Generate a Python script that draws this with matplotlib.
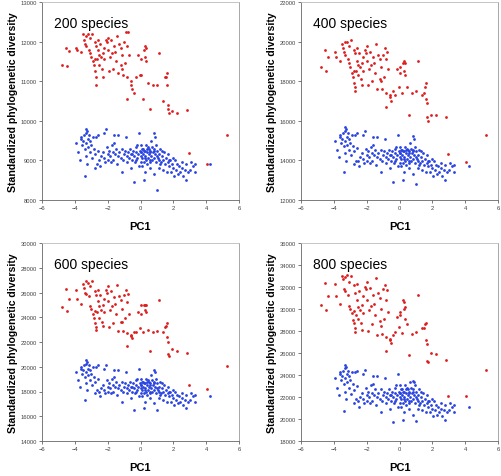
import matplotlib
matplotlib.use("Agg")
import matplotlib.pyplot as plt

plt.rcParams['font.family'] = ['Liberation Sans', 'DejaVu Sans']

# PC1 scores (same sites in every panel)
pc1_red = [-4.8, -4.45, -4.55, -4.35, -3.95, -3.85, -3.65, -3.5, -3.45, -3.4,
           -3.3, -3.2, -3.1, -3.15, -3.05, -3.0, -2.95, -2.9, -2.85, -2.8,
           -2.8, -2.75, -2.7, -2.7, -2.65, -2.6, -2.6, -2.55, -2.5, -2.45,
           -2.4, -2.35, -2.3, -2.25, -2.2, -2.1, -2.05, -2.0, -1.95, -1.9,
           -1.85, -1.8, -1.75, -1.7, -1.6, -1.55, -1.5, -1.45, -1.35, -1.3,
           -1.2, -1.15, -1.1, -1.05, -1.0, -0.95, -0.9, -0.85, -0.8, -0.75,
           -0.7, -0.6, -0.55, -0.5, -0.4, -0.85, -0.3, -0.15, -0.05, 0.0,
           0.05, 0.15, 0.2, 0.3, 0.3, 0.35, 0.45, 0.6, 0.75, 1.0,
           1.1, 1.35, 1.5, 1.55, 1.6, 1.6, 1.65, 1.7, 1.75, 1.9,
           2.2, 2.85, 2.95, 4.05, 5.25, -2.7, -3.3, -2.3, -1.2, 0.35]

pc1_blue = [-3.9, -3.8, -3.7, -3.6, -3.55, -3.5, -3.45, -3.4, -3.4, -3.35,
            -3.3, -3.3, -3.25, -3.25, -3.2, -3.2, -3.15, -3.1, -3.05, -3.0,
            -2.95, -2.9, -2.85, -2.8, -2.75, -2.7, -2.65, -2.6, -2.5, -2.45,
            -2.4, -2.3, -2.25, -2.2, -2.15, -2.1, -2.05, -2.0, -1.95, -1.9,
            -1.85, -1.8, -1.75, -1.7, -1.65, -1.6, -1.55, -1.5, -1.45, -1.4,
            -1.35, -1.3, -1.2, -1.15, -1.1, -1.05, -1.0, -0.95, -0.9, -0.85,
            -0.8, -0.75, -0.7, -0.65, -0.6, -0.55, -0.5, -0.45, -0.4, -0.4,
            -0.35, -0.3, -0.25, -0.2, -0.15, -0.1, -0.1, -0.05, 0.0, 0.0,
            0.05, 0.05, 0.1, 0.1, 0.15, 0.15, 0.2, 0.2, 0.25, 0.3,
            0.3, 0.35, 0.35, 0.4, 0.4, 0.45, 0.5, 0.5, 0.55, 0.6,
            0.6, 0.65, 0.7, 0.7, 0.75, 0.8, 0.8, 0.85, 0.85, 0.9,
            0.9, 0.95, 1.0, 1.0, 1.05, 1.1, 1.1, 1.15, 1.2, 1.25,
            1.3, 1.35, 1.4, 1.45, 1.5, 1.55, 1.6, 1.65, 1.7, 1.75,
            1.8, 1.85, 1.9, 1.95, 2.0, 2.05, 2.1, 2.15, 2.2, 2.3,
            2.35, 2.4, 2.5, 2.55, 2.6, 2.7, 2.75, 2.8, 2.9, 3.0,
            3.1, 3.2, 3.3, 3.35, 4.25, 0.2, 0.45, -0.2, 0.65, 0.95,
            1.3, -1.6, -2.6, -3.6, -3.3, 1.75, 1.2, 0.0, 0.25, 0.55,
            -0.3, 0.8, 0.6, 0.4, 1.0, -0.5, 0.1]

# standardized phylogenetic diversity, 200 species
pd200_red = [11400, 11390, 11850, 11770, 11850, 11780, 11730, 12200, 12050, 11950,
             11900, 12180, 12100, 11800, 11700, 11600, 12180, 11500, 11400, 12000,
             11250, 11550, 11900, 11100, 11550, 12050, 11800, 11650, 11400, 11950,
             11600, 11300, 11700, 11550, 11850, 12050, 12000, 11800, 12100, 11250,
             11600, 12030, 11700, 11300, 11900, 11750, 11500, 12150, 11200, 11950,
             11850, 11650, 11300, 11150, 12000, 11450, 12250, 11900, 11100, 12250,
             11650, 11000, 10900, 10800, 10700, 10550, 11100, 11650, 11150, 11150,
             11550, 10550, 11800, 11900, 11600, 11500, 10950, 10300, 10900, 10900,
             11700, 10500, 11100, 11100, 11200, 10900, 10400, 10300, 10200, 10250,
             10200, 10280, 9180, 8900, 9650, 10900, 12150, 11100, 11400, 11850]

pd200_blue = [9450, 9200, 9000, 9550, 9400, 9500, 9650, 9300, 8600, 9800,
              9450, 9100, 9750, 8900, 9550, 9350, 9650, 9500, 9200, 9400,
              9050, 9600, 9300, 9150, 8800, 9600, 8900, 9250, 9000, 8850,
              9100, 9200, 9700, 9050, 8950, 9800, 9350, 9150, 9000, 9250,
              9100, 8950, 9400, 9200, 9000, 9650, 9150, 9300, 8900, 9650,
              9100, 9200, 9050, 8700, 9300, 9000, 9150, 9250, 9600, 9100,
              8950, 9200, 9050, 9300, 8800, 9150, 9000, 9250, 9100, 8450,
              8950, 9200, 9350, 9050, 9150, 9700, 8850, 9250, 9100, 8950,
              9400, 9200, 9050, 8850, 9300, 9150, 8950, 8500, 9250, 9100,
              8700, 9400, 9000, 9200, 8900, 9050, 9300, 9150, 8950, 9250,
              8800, 9100, 9350, 9000, 9200, 9050, 8650, 9700, 9300, 9600,
              9150, 8950, 9250, 8250, 9050, 9150, 8800, 9000, 9300, 8950,
              9100, 8750, 9000, 9200, 8900, 9050, 8700, 8950, 9150, 8850,
              9000, 8700, 8900, 9050, 8800, 8600, 9000, 8750, 8900, 8650,
              8850, 8700, 8950, 8800, 8600, 8750, 8500, 8900, 8700, 8750,
              8950, 8850, 8700, 8900, 8900, 9250, 9350, 9400, 9500, 9400,
              9250, 9450, 9650, 9600, 9700, 9000, 8900, 9200, 9050, 9200,
              9000, 9250, 9000, 9300, 9100, 9150, 9300]

# 400 species
pd400_red = [18700, 18500, 19600, 19200, 19500, 19200, 19000, 19900, 19700, 19500,
             19300, 20000, 19800, 19100, 18900, 18700, 20100, 18400, 18200, 19600,
             17900, 18500, 19400, 17700, 18500, 19700, 19000, 18800, 18300, 19400,
             18700, 18100, 18900, 18500, 19200, 19600, 19400, 19000, 19800, 17800,
             18600, 19500, 18800, 18000, 19200, 18900, 18400, 19900, 17600, 19300,
             19100, 18700, 18000, 17600, 19300, 18200, 19700, 19100, 17400, 19500,
             18600, 17300, 17200, 17000, 17500, 16700, 17300, 18600, 17700, 18400,
             18700, 17400, 18900, 19000, 18500, 18300, 17700, 16300, 17400, 17500,
             19000, 17300, 17400, 17700, 17900, 17100, 16900, 16200, 16000, 16300,
             16300, 16200, 14300, 13900, 15300, 17500, 20000, 17800, 18100, 18900]

pd400_blue = [15000, 14550, 14150, 15200, 14900, 15100, 15400, 14750, 13400, 15700,
              15000, 14350, 15600, 13950, 15200, 14800, 15400, 15100, 14550, 14900,
              14250, 15300, 14750, 14450, 13800, 15300, 13950, 14650, 13950, 13700,
              14150, 14350, 15300, 14050, 13850, 15500, 14600, 14250, 13950, 14450,
              14150, 13850, 14700, 14350, 13950, 15200, 14250, 14550, 13750, 15200,
              14150, 14350, 14050, 13400, 14550, 13950, 14250, 14450, 15100, 14150,
              13850, 14350, 14050, 14550, 13600, 14250, 13950, 14450, 14150, 12900,
              13850, 14350, 14600, 14050, 14250, 15300, 13700, 14450, 14150, 13850,
              14700, 14350, 14050, 13700, 14550, 14250, 13850, 13000, 14450, 14150,
              13400, 14700, 13950, 14350, 13750, 14050, 14550, 14250, 13850, 14450,
              13600, 14150, 14600, 13950, 14350, 14050, 13300, 15250, 14550, 15100,
              14250, 13850, 14450, 12800, 14050, 14250, 13600, 13950, 14550, 13850,
              14150, 13500, 13950, 14350, 13750, 14050, 13400, 13850, 14250, 13700,
              13950, 13400, 13750, 14050, 13600, 13200, 13950, 13500, 13750, 13300,
              13700, 13400, 13850, 13600, 13200, 13500, 13000, 13750, 13400, 13500,
              13850, 13700, 13400, 13750, 13700, 14450, 14600, 14700, 14900, 14700,
              14450, 14800, 15400, 15300, 15500, 13950, 13750, 14350, 14050, 14350,
              13950, 14450, 13950, 14550, 14150, 14250, 14550]

# 600 species
pd600_red = [24800, 24500, 26300, 25500, 26200, 25500, 25100, 26700, 26400, 26000,
             25900, 26800, 26500, 25700, 24900, 24700, 26900, 24300, 23900, 26100,
             23500, 24500, 25800, 23200, 24400, 26200, 25300, 24900, 23900, 25800,
             24600, 23600, 25000, 24400, 25500, 26200, 26000, 25300, 26500, 23200,
             24600, 26100, 24900, 23500, 25600, 25100, 24300, 26600, 22900, 25700,
             25400, 24700, 23600, 22900, 25800, 23900, 26200, 25200, 22700, 25900,
             24300, 22600, 22500, 22300, 22800, 21700, 22800, 24400, 23100, 24300,
             25000, 22800, 25000, 25000, 24600, 24400, 23000, 21300, 22800, 22900,
             25400, 22800, 23200, 23300, 23500, 22400, 22000, 21000, 20900, 21400,
             21300, 21100, 18500, 18200, 20100, 23000, 26900, 23300, 23600, 25000]

pd600_blue = [19600, 18900, 18400, 19850, 19450, 19750, 20150, 19200, 17300, 20550,
              19600, 18650, 20400, 18100, 19850, 19300, 20150, 19750, 18900, 19450,
              18500, 20000, 19200, 18800, 17850, 20000, 18100, 19050, 18000, 17600,
              18250, 18500, 19850, 18100, 17850, 20150, 18900, 18400, 18000, 18650,
              18250, 17850, 19050, 18500, 18000, 19750, 18400, 18800, 17700, 19750,
              18250, 18500, 18100, 17150, 18800, 18000, 18400, 18650, 19600, 18250,
              17850, 18500, 18100, 18800, 17450, 18400, 18000, 18650, 18250, 16500,
              17850, 18500, 18900, 18100, 18400, 19850, 17600, 18650, 18250, 17850,
              19050, 18500, 18100, 17600, 18800, 18400, 17850, 16650, 18650, 18250,
              17150, 19050, 18000, 18500, 17700, 18100, 18800, 18400, 17850, 18650,
              17450, 18250, 18900, 18000, 18500, 18100, 17050, 19700, 18800, 19600,
              18400, 17850, 18650, 16500, 18100, 18400, 17450, 18000, 18800, 17850,
              18250, 17300, 18000, 18500, 17700, 18100, 17150, 17850, 18400, 17600,
              18000, 17150, 17700, 18100, 17450, 16900, 18000, 17300, 17700, 17050,
              17600, 17150, 17850, 17450, 16900, 17300, 16650, 17700, 17150, 17300,
              17850, 17600, 17150, 17700, 17600, 18650, 18900, 19050, 19350, 19050,
              18650, 19200, 20150, 20000, 20250, 18000, 17700, 18500, 18100, 18500,
              18000, 18650, 18000, 18800, 18250, 18400, 18800]

# 800 species
pd800_red = [30400, 29900, 32400, 31200, 32300, 31200, 30500, 33000, 32700, 31800,
             31600, 33100, 32500, 31300, 30300, 30000, 33000, 29600, 29000, 32200,
             28700, 29800, 31500, 28300, 29500, 32300, 30800, 30200, 29100, 31600,
             29900, 28700, 30400, 29600, 31200, 32000, 31800, 30800, 32500, 28000,
             29900, 31900, 30300, 28600, 31300, 30500, 29500, 32800, 27600, 31500,
             31000, 30000, 28500, 27700, 31800, 29100, 32200, 30800, 27500, 31700,
             29700, 27300, 27200, 26900, 27600, 26200, 27900, 29300, 28400, 29700,
             29500, 27800, 30800, 30600, 30000, 29100, 28600, 25800, 27700, 27900,
             31300, 28300, 28300, 28600, 28700, 27200, 26800, 25300, 25200, 26000,
             25900, 25400, 22100, 22100, 24500, 27900, 32900, 28100, 28900, 30200]

pd800_blue = [23700, 22850, 22150, 24050, 23550, 23900, 24400, 23200, 20750, 24950,
              23700, 22500, 24750, 21800, 24050, 23350, 24400, 23900, 22850, 23550,
              22300, 24250, 23200, 22650, 21450, 24250, 21800, 23000, 21650, 21100,
              22000, 22350, 24100, 21800, 21500, 24450, 22850, 22150, 21650, 22500,
              22000, 21500, 23050, 22350, 21650, 23900, 22150, 22700, 21300, 23900,
              22000, 22350, 21800, 20600, 22700, 21650, 22150, 22500, 23750, 22000,
              21500, 22350, 21800, 22700, 20950, 22150, 21650, 22500, 22000, 19750,
              21500, 22350, 22850, 21800, 22150, 24100, 21100, 22500, 22000, 21500,
              23050, 22350, 21800, 21100, 22700, 22150, 21500, 19900, 22500, 22000,
              20600, 23050, 21650, 22350, 21300, 21800, 22700, 22150, 21500, 22500,
              20950, 22000, 22850, 21650, 22350, 21800, 20400, 23500, 22700, 23400,
              22150, 21500, 22500, 19800, 21800, 22150, 20950, 21650, 22700, 21500,
              22000, 20800, 21650, 22350, 21300, 21800, 20600, 21500, 22150, 21100,
              21650, 20600, 21300, 21800, 20950, 20250, 21650, 20800, 21300, 20400,
              21100, 20600, 21500, 20950, 20250, 20800, 19900, 21300, 20600, 20800,
              21500, 21100, 20600, 21300, 21050, 22500, 22850, 23050, 23400, 23050,
              22500, 23200, 24400, 24250, 24600, 21650, 21300, 22350, 21800, 22350,
              21650, 22500, 21650, 22700, 22000, 22150, 22700]

titles = ['200 species', '400 species', '600 species', '800 species']
red_sets = [pd200_red, pd400_red, pd600_red, pd800_red]
blue_sets = [pd200_blue, pd400_blue, pd600_blue, pd800_blue]
ylims = [(8000, 13000, 1000), (12000, 22000, 2000), (14000, 30000, 2000), (18000, 36000, 2000)]

W, H = 501, 477
fig = plt.figure(figsize=(W / 100, H / 100), dpi=100)

# axes boxes in pixels: left, top, right, bottom
boxes = [(42, 3, 239, 201), (301, 3, 498, 201), (42, 244, 239, 442), (301, 244, 498, 442)]

for i in range(4):
    l, t, r, b = boxes[i]
    ax = fig.add_axes([l / W, 1 - b / H, (r - l) / W, (b - t) / H])
    ax.scatter(pc1_blue, blue_sets[i], s=4, color='#2a44e0', marker='o', linewidths=0, zorder=3)
    ax.scatter(pc1_red, red_sets[i], s=4, color='#dc1e1e', marker='o', linewidths=0, zorder=3)
    lo, hi, step = ylims[i]
    ax.set_ylim(lo, hi)
    ax.set_yticks(range(lo, hi + 1, step))
    ax.set_xlim(-6, 6)
    ax.set_xticks(range(-6, 7, 2))
    ax.tick_params(labelsize=4.2, colors='#444444', length=2.2, width=0.5, pad=1.5)
    ax.spines['left'].set_color('#666666')
    ax.spines['bottom'].set_color('#666666')
    ax.spines['right'].set_color('#999999')
    ax.spines['top'].set_color('#bbbbbb')
    for s in ax.spines.values():
        s.set_linewidth(0.6)
    ax.set_ylabel('Standardized phylogenetic diversity', fontsize=7.6, fontweight='bold', labelpad=2)
    ax.set_xlabel('PC1', fontsize=8, fontweight='bold', labelpad=8)
    ax.text(0.06, 0.895, titles[i], transform=ax.transAxes, fontsize=10, va='center', ha='left')

fig.savefig('out.png', dpi=100)
